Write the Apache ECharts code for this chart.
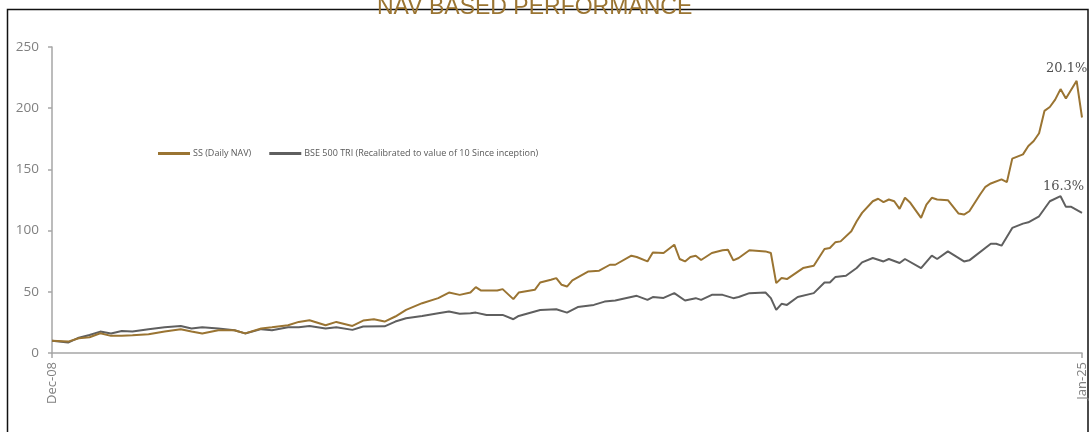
<!DOCTYPE html>
<html>
<head>
<meta charset="utf-8">
<script src="https://cdn.jsdelivr.net/npm/echarts@6/dist/echarts.min.js"></script>
<style>
html,body{margin:0;padding:0;background:#fff;}
#chart{width:1091px;height:432px;}
</style>
</head>
<body>
<div id="chart"></div>
<script>
// Month index since Dec-08 (0) to Jan-25 (192)
const xTickLabels = ['Dec-08', 'Jan-25'];
const lastMonth = 192;

const ssName = 'SS (Daily NAV)';
const ssMonths = [0,3,5,7,9,11,13,15,18,21,24,26,28,31,34,36,39,41,44,46,48,51,53,56,58,60,62,64,66,69,72,74,76,78,79,80,83,84,86,87,90,91,93,94,95,96,97,100,102,104,105,108,109,111,112,114,116,117,118,119,120,121,123,125,126,127,128,130,133,134,135,136,137,140,142,144,145,146,147,149,150,151,153,154,155,156,157,158,159,160,162,163,164,165,167,169,170,171,173,174,175,177,178,179,181,182,183,184,185,186,187,188,189,191,192];
const ssValues = [10,9.3,12,12.9,16.1,14,14,14.5,15.3,17.5,19.4,17.5,16,18.6,18.6,16,20,21,22.7,25.4,26.7,22.7,25.4,22.1,26.5,27.6,25.7,29.8,35.2,40.7,44.8,49.4,47.5,49.4,53.8,51,51,52.2,44,49.4,51.6,57.6,59.8,61.2,55.7,54.3,59.3,66.6,67.2,72.1,72.1,79.5,78.4,74.8,82.2,81.7,88.5,76.8,74.8,78.4,79.5,76,81.7,83.9,84.4,75.7,77.6,83.9,83,81.7,57.1,61.2,60.4,69.4,71.3,85,85.8,90.4,91.2,99.4,107.6,114.5,124,126,123.2,125.4,124,117.8,126.8,122.7,110.4,121.3,126.8,125.4,124.8,113.9,113.1,115.8,129.5,135.8,138.5,141.8,139.6,158.8,162.3,169.1,173.2,179.5,197.8,201,207,215.6,207.9,222.4,192.4];
const ssLabelMonth = 191;
const ssLabel = '20.1%';

const bseName = 'BSE 500 TRI (Recalibrated to value of 10 Since inception)';
const bseMonths = [0,3,5,7,9,11,13,15,18,21,24,26,28,31,34,36,39,41,44,46,48,51,53,56,58,62,64,66,69,72,74,76,78,79,81,84,86,87,91,94,96,98,101,103,105,109,111,112,114,116,118,120,121,123,125,127,128,130,133,134,135,136,137,139,142,144,145,146,148,150,151,153,155,156,158,159,162,164,165,167,170,171,175,176,177,179,181,182,184,186,188,189,190,192];
const bseValues = [10,8.5,12.5,14.7,17.5,16,18,17.5,19.4,21,22,20,21,20,18.6,16,19.5,18.6,21,21,22,20,21,18.9,21.6,21.8,25.7,28.4,30.3,32.5,33.9,32,32.5,33,31.1,31.1,27.6,30.3,35.2,35.8,33,37.5,39.3,42,42.9,46.7,43.4,45.7,45,48.9,42.9,44.8,43.4,47.5,47.5,44.8,45.7,48.9,49.4,44.8,35.2,40.2,39.3,45.7,48.9,57.6,57.6,62,63.1,69.4,74,77.6,74.8,76.8,73.5,76.8,69.4,79.5,76.8,83,74.8,75.7,89.3,89.3,87.7,102.2,105.7,106.8,111.7,124,128.1,119.4,119.4,114.5];
const bseLabelMonth = 188;
const bseLabel = '16.3%';

const gold = '#9A7432';
const grey = '#5f5f5f';

function pairs(months, values) {
  return months.map((m, i) => [m, values[i]]);
}
function endLabel(months, values, labelMonth, labelText, offset) {
  const i = months.indexOf(labelMonth);
  return {
    silent: true,
    symbol: 'circle', symbolSize: 0,
    data: [{
      coord: [months[i], values[i]],
      label: {
        show: true, position: 'top', distance: 6, offset: offset,
        formatter: labelText, color: '#505050',
        fontFamily: '"DejaVu Serif", serif', fontSize: 13
      }
    }]
  };
}

const chart = echarts.init(document.getElementById('chart'));
chart.setOption({
  animation: false,
  title: {
    text: 'NAV BASED PERFORMANCE',
    left: 372, top: -9,
    textStyle: { color: gold, fontFamily: 'Liberation Sans', fontSize: 23, fontWeight: 'normal' }
  },
  graphic: [{
    type: 'rect', silent: true, z: -1,
    shape: { x: 7.5, y: 9.5, width: 1080.5, height: 600 },
    style: { fill: 'none', stroke: '#111', lineWidth: 1.5 }
  }],
  legend: {
    left: 153, top: 144,
    itemWidth: 32, itemHeight: 3, itemGap: 18,
    icon: 'rect',
    textStyle: { color: '#595959', fontSize: 9, fontFamily: 'Open Sans', padding: [0,0,0,-2] },
    data: [ssName, bseName]
  },
  grid: { left: 52, right: 9, top: 47, bottom: 79 },
  xAxis: {
    type: 'value', min: 0, max: lastMonth, interval: lastMonth,
    axisLine: { show: true, lineStyle: { color: '#a6a6a6', width: 1.5 } },
    axisTick: { show: true, inside: false, length: 5, lineStyle: { color: '#a6a6a6', width: 1.5 } },
    splitLine: { show: false },
    axisLabel: {
      rotate: 90, margin: 9, color: '#808080', fontSize: 13, fontFamily: 'Open Sans',
      showMinLabel: true, showMaxLabel: true,
      formatter: v => v === 0 ? xTickLabels[0] : (v === lastMonth ? xTickLabels[1] : '')
    }
  },
  yAxis: {
    type: 'value', min: 0, max: 250, interval: 50,
    axisLine: { show: true, lineStyle: { color: '#a6a6a6', width: 1.5 } },
    axisTick: { show: true, length: 4, lineStyle: { color: '#a6a6a6', width: 1.5 } },
    splitLine: { show: false },
    axisLabel: { margin: 13, color: '#808080', fontSize: 13.5, fontFamily: 'Open Sans' }
  },
  series: [
    {
      name: ssName, type: 'line', showSymbol: false, symbol: 'none',
      lineStyle: { color: gold, width: 2 }, itemStyle: { color: gold },
      z: 3,
      data: pairs(ssMonths, ssValues),
      markPoint: endLabel(ssMonths, ssValues, ssLabelMonth, ssLabel, [-10, 0])
    },
    {
      name: bseName, type: 'line', showSymbol: false, symbol: 'none',
      lineStyle: { color: grey, width: 2 }, itemStyle: { color: grey },
      z: 2,
      data: pairs(bseMonths, bseValues),
      markPoint: endLabel(bseMonths, bseValues, bseLabelMonth, bseLabel, [3, 3])
    }
  ]
});
</script>
</body>
</html>
